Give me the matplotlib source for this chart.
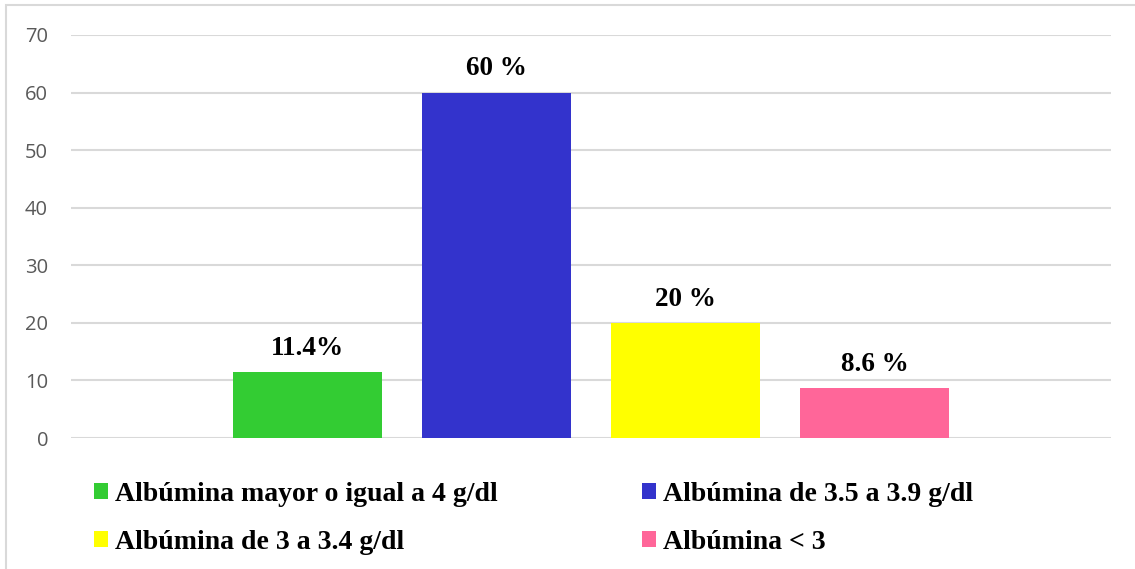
import matplotlib.pyplot as plt
from matplotlib.patches import Rectangle

# datos
categorias = ['Albúmina mayor o igual a 4 g/dl', 'Albúmina de 3.5 a 3.9 g/dl',
              'Albúmina de 3 a 3.4 g/dl', 'Albúmina < 3']
valores = [11.4, 60, 20, 8.6]
etiquetas = ['11.4%', '60 %', '20 %', '8.6 %']
colores = ['#33CC33', '#3333CC', '#FFFF00', '#FF6699']

fig = plt.figure(figsize=(11.35, 5.69), dpi=100)
ax = fig.add_axes([71/1135, 131/569, 1040/1135, 403/569])

# marco exterior del gráfico
fig.patches.append(Rectangle((6/1135, -0.05), 1.2, (569 - 5)/569 + 0.05,
                             transform=fig.transFigure, fill=False,
                             edgecolor='#d9d9d9', linewidth=1.5))

barras = []
for i, (v, c, lab) in enumerate(zip(valores, colores, categorias)):
    b = ax.bar(i, v, width=149/189, color=c, label=lab, zorder=2)
    barras.append(b)
    ax.annotate(etiquetas[i], (i, v), xytext=(0, 8), textcoords='offset points',
                ha='center', va='bottom', fontsize=19.5, fontweight='bold',
                family='Liberation Serif', color='#000000')

ax.set_xlim(1.5 - 2.751, 1.5 + 2.751)
ax.set_ylim(0, 70)
ax.set_yticks(range(0, 71, 10))
ax.set_xticks([])
ax.yaxis.grid(True, color='#d9d9d9', linewidth=1.5, zorder=0)
ax.set_axisbelow(True)
for s in ax.spines.values():
    s.set_visible(False)
ax.tick_params(axis='y', length=0, pad=16.5, labelsize=14.5, labelcolor='#595959')
for t in ax.get_yticklabels():
    t.set_family('Open Sans')

# leyenda en dos columnas
ley_kw = dict(frameon=False, handlelength=0.5, handleheight=0.5,
              handletextpad=0.25, labelspacing=0.82,
              prop={'family': 'Liberation Serif', 'weight': 'bold', 'size': 20},
              loc='upper left', borderaxespad=0, borderpad=0)
l1 = fig.legend([barras[0], barras[2]], [categorias[0], categorias[2]],
                bbox_to_anchor=(94/1135, 1 - 482/569), **ley_kw)
l2 = fig.legend([barras[1], barras[3]], [categorias[1], categorias[3]],
                bbox_to_anchor=(642/1135, 1 - 482/569), **ley_kw)

fig.savefig('out.png', dpi=100)
